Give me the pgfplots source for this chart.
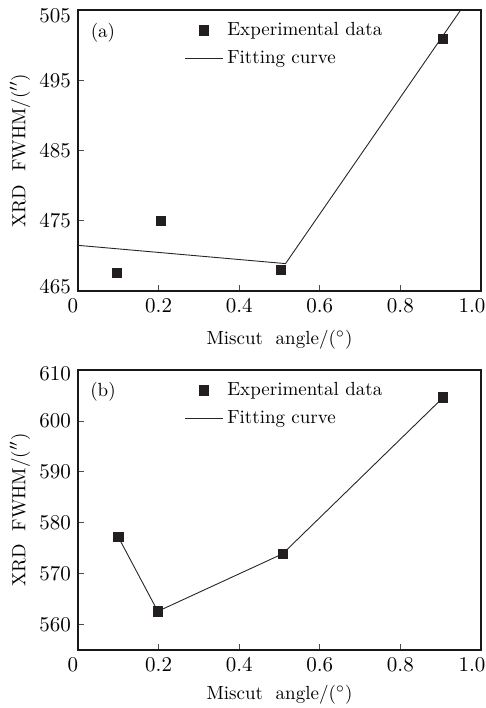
\documentclass[border=0pt]{standalone}
\usepackage{pgfplots}
\pgfplotsset{compat=1.18}
\definecolor{mk}{HTML}{231F20}
\begin{document}
\begin{tikzpicture}[font=\fontsize{9.5}{11}\selectfont]
\path[use as bounding box] (0,0) rectangle (243pt,354pt);
\pgfplotsset{
  myaxis/.style={
    scale only axis, width=201.5pt,
    xmin=0, xmax=1, xtick={0,0.2,0.4,0.6,0.8,1},
    xticklabels={\hspace*{-5pt}0,0.2,0.4,0.6,0.8,\hspace*{-9pt}1.0},
    tick align=inside, major tick length=3pt,
    xtick pos=bottom, ytick pos=left,
    tick style={black!70, line width=0.4pt},
    axis line style={line width=0.6pt, black!90},
    tick label style={font=\fontsize{10.5}{12}\selectfont},
    label style={font=\fontsize{9.5}{11}\selectfont},
    xlabel={Miscut\ \ angle/(${}^{\circ}$)},
    ylabel={XRD\ \ FWHM/($''$)},
    every axis y label/.style={at={(rel axis cs:0,0.5)}, xshift=-29pt, rotate=90, anchor=center},
    legend style={draw=none, fill=none, at={(rel axis cs:0,1)}, anchor=north west,
      xshift=50pt, yshift=-2pt, row sep=2pt, font=\fontsize{9.5}{11}\selectfont,
      /tikz/every even column/.append style={column sep=1.5pt}},
    legend cell align=left,
  },
  markst/.style={only marks, mark=square*, mark size=2.35pt, color=mk,
    legend image code/.code={\draw[mark repeat=2,mark phase=2,##1] plot coordinates {(0pt,0pt)(9.5pt,0pt)(19pt,0pt)};}},
  linest/.style={color=black!85, line width=0.45pt, mark=none,
    legend image code/.code={\draw[##1] (0pt,0pt) -- (19pt,0pt);}},
}
% panel (a)
\begin{axis}[myaxis, at={(39pt,208.5pt)}, anchor=south west, height=140.5pt,
  ymin=465, ymax=505, ytick={465,475,485,495,505},
  yticklabels={\raisebox{2.15pt}[\height][\depth]{465},475,485,495,\raisebox{-2.85pt}[\height][\depth]{505}},
  xlabel style={at={(rel axis cs:0.5,0)}, anchor=center, yshift=-24.5pt}]
\addplot[markst] coordinates {(0.096,467.6) (0.205,475.0) (0.504,468.0) (0.905,500.9)};
\addlegendentry{Experimental data}
\addplot[linest] coordinates {(0,471.5) (0.515,468.9) (0.952,505.2)};
\addlegendentry{Fitting curve}
\node at (rel axis cs:0,1) [xshift=12.5pt, yshift=-11.5pt] {(a)};
\end{axis}
% panel (b)
\begin{axis}[myaxis, at={(39pt,29pt)}, anchor=south west, height=140pt,
  ymin=555, ymax=610, ytick={560,570,580,590,600,610},
  yticklabels={560,570,580,590,600,\raisebox{-1.85pt}[\height][\depth]{610}},
  xlabel style={at={(rel axis cs:0.5,0)}, anchor=center, yshift=-22.5pt}]
\addplot[markst] coordinates {(0.1,577.2) (0.198,562.6) (0.508,573.9) (0.906,604.6)};
\addlegendentry{Experimental data}
\addplot[linest] coordinates {(0.1,577.2) (0.198,562.6) (0.508,573.9) (0.906,604.6)};
\addlegendentry{Fitting curve}
\node at (rel axis cs:0,1) [xshift=12.5pt, yshift=-10.8pt] {(b)};
\end{axis}
\end{tikzpicture}
\end{document}
